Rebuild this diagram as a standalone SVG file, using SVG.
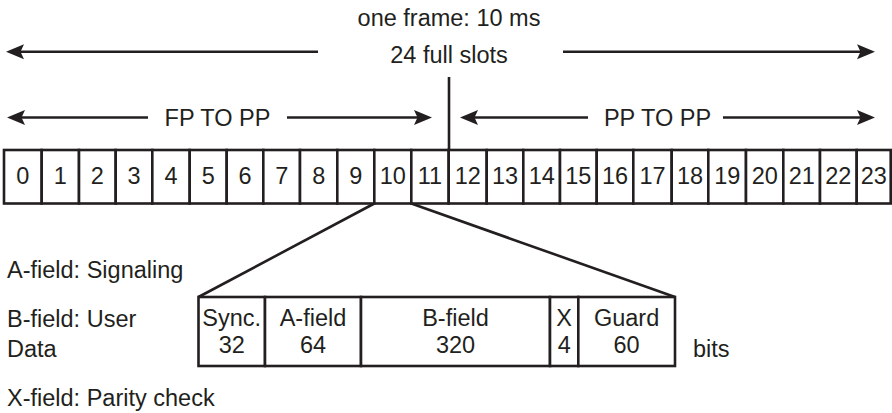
<svg xmlns="http://www.w3.org/2000/svg" width="892" height="413" viewBox="0 0 892 413">
<style>
text{font-family:"Liberation Sans",Arial,Helvetica,sans-serif;font-size:23.5px;fill:#231f20}
.c{text-anchor:middle}
.box{fill:#fff;stroke:#231f20;stroke-width:2.6}
.ln{stroke:#231f20;stroke-width:2.6;fill:none}
.arr{stroke:#231f20;stroke-width:2.6;fill:none;marker-end:url(#ah)}
</style>
<defs>
<marker id="ah" markerUnits="userSpaceOnUse" viewBox="0 -9 20 18" markerWidth="20" markerHeight="18" refX="10" refY="0" orient="auto">
<path d="M18,0 L0,-7.5 L3.5,0 L0,7.5 Z" fill="#231f20"/>
</marker>
</defs>
<g id="title">
<text class="c" x="449" y="26">one frame: 10 ms</text>
<text class="c" x="449" y="63">24 full slots</text>
<text class="c" x="217.5" y="126">FP TO PP</text>
<text class="c" x="657.5" y="126">PP TO PP</text>
</g>
<g id="connectors">
<line class="arr" x1="318" y1="51.7" x2="14" y2="51.7"/>
<line class="arr" x1="563" y1="51.7" x2="867" y2="51.7"/>
<line class="arr" x1="148" y1="117.5" x2="15" y2="117.5"/>
<line class="arr" x1="287" y1="117.5" x2="424" y2="117.5"/>
<line class="arr" x1="588" y1="117.5" x2="468" y2="117.5"/>
<line class="arr" x1="723" y1="117.5" x2="867" y2="117.5"/>
<line class="ln" x1="449" y1="77" x2="449" y2="150"/>
<line class="ln" x1="374.3" y1="203.5" x2="198.5" y2="297"/>
<line class="ln" x1="411.3" y1="203.5" x2="675" y2="297"/>
</g>
<g id="slots">
<g id="slot0"><rect class="box" x="4" y="150" width="37.7" height="53.5"/><text class="c" x="22.9" y="184">0</text></g>
<g id="slot1"><rect class="box" x="41.7" y="150" width="37.3" height="53.5"/><text class="c" x="60.4" y="184">1</text></g>
<g id="slot2"><rect class="box" x="79" y="150" width="36.7" height="53.5"/><text class="c" x="97.4" y="184">2</text></g>
<g id="slot3"><rect class="box" x="115.7" y="150" width="36.6" height="53.5"/><text class="c" x="134" y="184">3</text></g>
<g id="slot4"><rect class="box" x="152.3" y="150" width="37.4" height="53.5"/><text class="c" x="171" y="184">4</text></g>
<g id="slot5"><rect class="box" x="189.7" y="150" width="37" height="53.5"/><text class="c" x="208.2" y="184">5</text></g>
<g id="slot6"><rect class="box" x="226.7" y="150" width="36.6" height="53.5"/><text class="c" x="245" y="184">6</text></g>
<g id="slot7"><rect class="box" x="263.3" y="150" width="36.7" height="53.5"/><text class="c" x="281.7" y="184">7</text></g>
<g id="slot8"><rect class="box" x="300" y="150" width="37.3" height="53.5"/><text class="c" x="318.7" y="184">8</text></g>
<g id="slot9"><rect class="box" x="337.3" y="150" width="37" height="53.5"/><text class="c" x="355.8" y="184">9</text></g>
<g id="slot10"><rect class="box" x="374.3" y="150" width="37" height="53.5"/><text class="c" x="392.8" y="184">10</text></g>
<g id="slot11"><rect class="box" x="411.3" y="150" width="37.4" height="53.5"/><text class="c" x="430" y="184">11</text></g>
<g id="slot12"><rect class="box" x="448.7" y="150" width="38" height="53.5"/><text class="c" x="467.7" y="184">12</text></g>
<g id="slot13"><rect class="box" x="486.7" y="150" width="36.6" height="53.5"/><text class="c" x="505" y="184">13</text></g>
<g id="slot14"><rect class="box" x="523.3" y="150" width="36.7" height="53.5"/><text class="c" x="541.7" y="184">14</text></g>
<g id="slot15"><rect class="box" x="560" y="150" width="36.7" height="53.5"/><text class="c" x="578.3" y="184">15</text></g>
<g id="slot16"><rect class="box" x="596.7" y="150" width="36.6" height="53.5"/><text class="c" x="615" y="184">16</text></g>
<g id="slot17"><rect class="box" x="633.3" y="150" width="38.4" height="53.5"/><text class="c" x="652.5" y="184">17</text></g>
<g id="slot18"><rect class="box" x="671.7" y="150" width="36.6" height="53.5"/><text class="c" x="690" y="184">18</text></g>
<g id="slot19"><rect class="box" x="708.3" y="150" width="37.7" height="53.5"/><text class="c" x="727.2" y="184">19</text></g>
<g id="slot20"><rect class="box" x="746" y="150" width="37.3" height="53.5"/><text class="c" x="764.7" y="184">20</text></g>
<g id="slot21"><rect class="box" x="783.3" y="150" width="36.7" height="53.5"/><text class="c" x="801.7" y="184">21</text></g>
<g id="slot22"><rect class="box" x="820" y="150" width="36.7" height="53.5"/><text class="c" x="838.3" y="184">22</text></g>
<g id="slot23"><rect class="box" x="856.7" y="150" width="34" height="53.5"/><text class="c" x="873.7" y="184">23</text></g>
</g>
<g id="fields">
<g id="sync"><rect class="box" x="198.5" y="297" width="66.5" height="69"/><text class="c" x="231.7" y="326">Sync.</text><text class="c" x="231.7" y="353">32</text></g>
<g id="afield"><rect class="box" x="265" y="297" width="96" height="69"/><text class="c" x="313" y="326">A-field</text><text class="c" x="313" y="353">64</text></g>
<g id="bfield"><rect class="box" x="361" y="297" width="189" height="69"/><text class="c" x="455.5" y="326">B-field</text><text class="c" x="455.5" y="353">320</text></g>
<g id="xfield"><rect class="box" x="550" y="297" width="28.3" height="69"/><text class="c" x="564.2" y="326">X</text><text class="c" x="564.2" y="353">4</text></g>
<g id="guard"><rect class="box" x="578.3" y="297" width="96.7" height="69"/><text class="c" x="626.6" y="326">Guard</text><text class="c" x="626.6" y="353">60</text></g>
</g>
<g id="labels">
<text x="7" y="278">A-field: Signaling</text>
<text x="7" y="327">B-field: User</text>
<text x="7" y="356.5">Data</text>
<text x="7" y="406">X-field: Parity check</text>
<text x="693" y="357">bits</text>
</g>
</svg>
